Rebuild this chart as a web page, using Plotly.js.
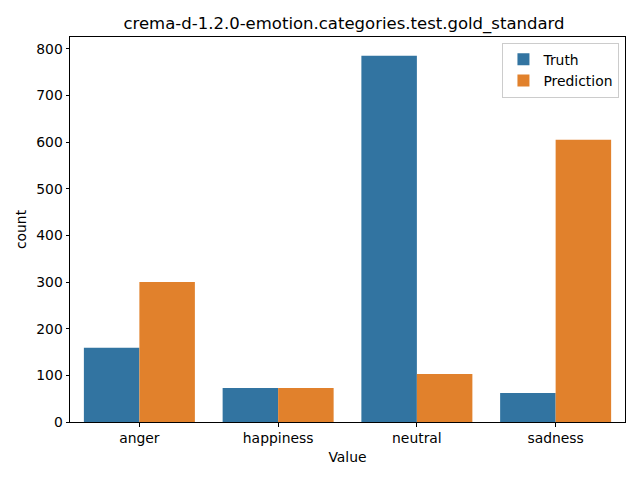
<!DOCTYPE html>
<html>
<head>
<meta charset="utf-8">
<script src="https://cdn.plot.ly/plotly-3.0.1.min.js"></script>
<style>html,body{margin:0;padding:0;background:#fff;}#chart{width:640px;height:480px;}</style>
</head>
<body>
<div id="chart"></div>
<script>
const categories = ["anger", "happiness", "neutral", "sadness"];
const truthValues = [159, 73, 785, 62];
const predictionValues = [300, 73, 103, 605];
const yTicks = [0, 100, 200, 300, 400, 500, 600, 700, 800];

const font = {family: "DejaVu Sans", size: 13.9, color: "#000"};
const traces = [
  {type: "bar", name: "Truth", x: categories, y: truthValues, marker: {color: "#3274a1", line: {width: 0}}},
  {type: "bar", name: "Prediction", x: categories, y: predictionValues, marker: {color: "#e1812c", line: {width: 0}}}
];
const axisCommon = {
  showline: true, linecolor: "#000", linewidth: 1, mirror: true,
  ticks: "outside", ticklen: 3.5, tickwidth: 1, tickcolor: "#000",
  showgrid: false, zeroline: false, tickfont: font
};
const layout = {
  width: 640, height: 480,
  margin: {l: 70, r: 15, t: 37, b: 58},
  paper_bgcolor: "#fff", plot_bgcolor: "#fff",
  font: font,
  barmode: "group", bargap: 0.2, bargroupgap: 0,
  title: {text: "crema-d-1.2.0-emotion.categories.test.gold_standard", font: {family: "DejaVu Sans", size: 16.5, color: "#000"}, x: 0.5375, xanchor: "center", y: 0.952, yanchor: "middle"},
  xaxis: Object.assign({}, axisCommon, {
    type: "category", range: [-0.5, 3.5],
    title: {text: "Value", font: font, standoff: 7}
  }),
  yaxis: Object.assign({}, axisCommon, {
    range: [0, 825], tickvals: yTicks, ticktext: yTicks.map(String),
    title: {text: "count", font: font, standoff: 6}
  }),
  legend: {
    x: 0.99, xanchor: "right", y: 0.985, yanchor: "top",
    bgcolor: "rgba(255,255,255,0.8)", bordercolor: "#cccccc", borderwidth: 1,
    font: font, tracegroupgap: 0
  },
  showlegend: true
};
Plotly.newPlot("chart", traces, layout, {displayModeBar: false, staticPlot: true});
</script>
</body>
</html>
